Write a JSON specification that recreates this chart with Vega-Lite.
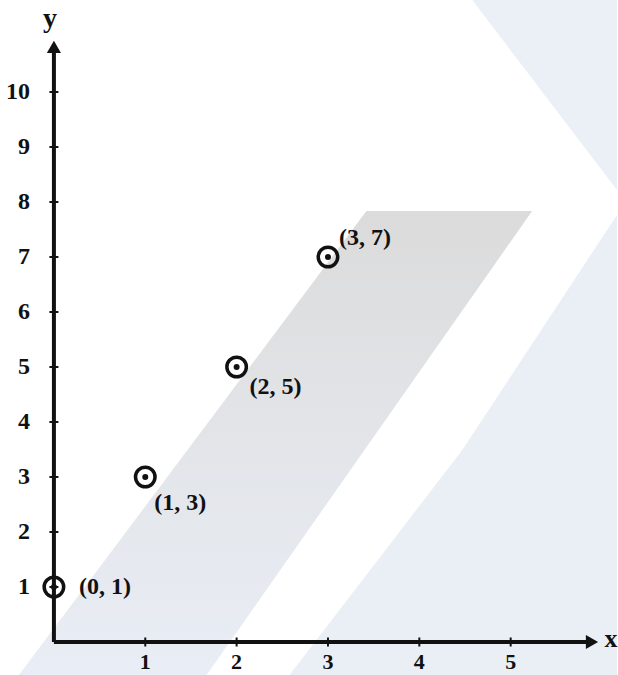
{
  "$schema": "https://vega.github.io/schema/vega-lite/v6.json",
  "width": 618,
  "height": 675,
  "autosize": {"type": "fit", "contains": "padding"},
  "padding": 0,
  "background": "#ffffff",
  "config": {
    "view": {"stroke": null},
    "text": {"font": "Liberation Serif", "fontWeight": "bold", "fontSize": 24, "color": "#111111"}
  },
  "datasets": {
    "shapes": [
      {"part": "upper", "y": 11.6727, "x0": 4.579, "x1": 6.1639},
      {"part": "upper", "y": 8.218, "x0": 6.1639, "x1": 6.1639},
      {"part": "lower", "y": 7.764, "x0": 6.1639, "x1": 6.1639},
      {"part": "lower", "y": 3.491, "x0": 4.47, "x1": 6.1639},
      {"part": "lower", "y": -0.6, "x0": 2.579, "x1": 6.1639},
      {"part": "band", "y": 7.836, "x0": 3.421, "x1": 5.235},
      {"part": "band", "y": -0.6, "x0": -0.383, "x1": 1.672}
    ],
    "axes": [
      {"x": 0, "y": 0, "x2": 0, "y2": 10.8},
      {"x": 0, "y": 0, "x2": 5.89, "y2": 0}
    ],
    "arrows": [
      {"x": 0, "y": 10.82, "dir": "up"},
      {"x": 5.89, "y": 0, "dir": "right"}
    ],
    "yt": [{"v": 1}, {"v": 2}, {"v": 3}, {"v": 4}, {"v": 5}, {"v": 6}, {"v": 7}, {"v": 8}, {"v": 9}, {"v": 10}],
    "xt": [{"v": 1}, {"v": 2}, {"v": 3}, {"v": 4}, {"v": 5}],
    "pts": [
      {"x": 0, "y": 1, "label": "(0, 1)"},
      {"x": 1, "y": 3, "label": "(1, 3)"},
      {"x": 2, "y": 5, "label": "(2, 5)"},
      {"x": 3, "y": 7, "label": "(3, 7)"}
    ]
  },
  "layer": [
    {
      "data": {"name": "shapes"},
      "transform": [{"filter": "datum.part == 'upper'"}],
      "mark": {"type": "area", "orient": "horizontal", "fill": "#ebeff6", "stroke": null},
      "encoding": {
        "y": {"field": "y", "type": "quantitative", "scale": {"domain": [-0.6, 11.6727], "nice": false, "zero": false}, "axis": null},
        "x": {"field": "x0", "type": "quantitative", "scale": {"domain": [-0.5902, 6.1639], "nice": false, "zero": false}, "axis": null},
        "x2": {"field": "x1"}
      }
    },
    {
      "data": {"name": "shapes"},
      "transform": [{"filter": "datum.part == 'lower'"}],
      "mark": {"type": "area", "orient": "horizontal", "fill": "#eaeff6", "stroke": null},
      "encoding": {
        "y": {"field": "y", "type": "quantitative", "scale": {"domain": [-0.6, 11.6727], "nice": false, "zero": false}, "axis": null},
        "x": {"field": "x0", "type": "quantitative", "scale": {"domain": [-0.5902, 6.1639], "nice": false, "zero": false}, "axis": null},
        "x2": {"field": "x1"}
      }
    },
    {
      "data": {"name": "shapes"},
      "transform": [{"filter": "datum.part == 'band'"}],
      "mark": {
        "type": "area", "orient": "horizontal", "stroke": null,
        "fill": {"gradient": "linear", "x1": 0, "y1": 0, "x2": 0, "y2": 1,
          "stops": [{"offset": 0, "color": "#dbdbdb"}, {"offset": 0.4, "color": "#e1e3e6"}, {"offset": 1, "color": "#e9edf5"}]}
      },
      "encoding": {
        "y": {"field": "y", "type": "quantitative", "scale": {"domain": [-0.6, 11.6727], "nice": false, "zero": false}, "axis": null},
        "x": {"field": "x0", "type": "quantitative", "scale": {"domain": [-0.5902, 6.1639], "nice": false, "zero": false}, "axis": null},
        "x2": {"field": "x1"}
      }
    },
    {
      "data": {"name": "axes"},
      "mark": {"type": "rule", "color": "#111111", "strokeWidth": 4},
      "encoding": {
        "x": {"field": "x", "type": "quantitative", "scale": {"domain": [-0.5902, 6.1639], "nice": false, "zero": false}, "axis": null},
        "y": {"field": "y", "type": "quantitative", "scale": {"domain": [-0.6, 11.6727], "nice": false, "zero": false}, "axis": null},
        "x2": {"field": "x2"},
        "y2": {"field": "y2"}
      }
    },
    {
      "data": {"name": "arrows"},
      "mark": {"type": "point", "filled": true, "color": "#111111", "size": 200, "opacity": 1},
      "encoding": {
        "x": {"field": "x", "type": "quantitative", "scale": {"domain": [-0.5902, 6.1639], "nice": false, "zero": false}, "axis": null},
        "y": {"field": "y", "type": "quantitative", "scale": {"domain": [-0.6, 11.6727], "nice": false, "zero": false}, "axis": null},
        "shape": {"field": "dir", "type": "nominal", "scale": {"domain": ["up", "right"], "range": ["triangle-up", "triangle-right"]}, "legend": null}
      }
    },
    {
      "data": {"name": "yt"},
      "mark": {"type": "tick", "orient": "horizontal", "size": 9, "thickness": 2, "color": "#111111", "opacity": 1},
      "encoding": {
        "x": {"datum": 0, "type": "quantitative", "scale": {"domain": [-0.5902, 6.1639], "nice": false, "zero": false}, "axis": null},
        "y": {"field": "v", "type": "quantitative", "scale": {"domain": [-0.6, 11.6727], "nice": false, "zero": false}, "axis": null}
      }
    },
    {
      "data": {"name": "xt"},
      "mark": {"type": "tick", "orient": "vertical", "size": 9, "thickness": 2, "color": "#111111", "opacity": 1},
      "encoding": {
        "x": {"field": "v", "type": "quantitative", "scale": {"domain": [-0.5902, 6.1639], "nice": false, "zero": false}, "axis": null},
        "y": {"datum": 0, "type": "quantitative", "scale": {"domain": [-0.6, 11.6727], "nice": false, "zero": false}, "axis": null}
      }
    },
    {
      "data": {"name": "yt"},
      "mark": {"type": "text", "align": "right", "baseline": "middle", "dx": -24},
      "encoding": {
        "x": {"datum": 0, "type": "quantitative", "scale": {"domain": [-0.5902, 6.1639], "nice": false, "zero": false}, "axis": null},
        "y": {"field": "v", "type": "quantitative", "scale": {"domain": [-0.6, 11.6727], "nice": false, "zero": false}, "axis": null},
        "text": {"field": "v", "type": "quantitative"}
      }
    },
    {
      "data": {"name": "xt"},
      "mark": {"type": "text", "align": "center", "baseline": "middle", "dy": 20, "fontSize": 22},
      "encoding": {
        "x": {"field": "v", "type": "quantitative", "scale": {"domain": [-0.5902, 6.1639], "nice": false, "zero": false}, "axis": null},
        "y": {"datum": 0, "type": "quantitative", "scale": {"domain": [-0.6, 11.6727], "nice": false, "zero": false}, "axis": null},
        "text": {"field": "v", "type": "quantitative"}
      }
    },
    {
      "data": {"name": "pts"},
      "mark": {"type": "point", "shape": "circle", "filled": false, "size": 380, "strokeWidth": 3.5, "color": "#111111", "opacity": 1},
      "encoding": {
        "x": {"field": "x", "type": "quantitative", "scale": {"domain": [-0.5902, 6.1639], "nice": false, "zero": false}, "axis": null},
        "y": {"field": "y", "type": "quantitative", "scale": {"domain": [-0.6, 11.6727], "nice": false, "zero": false}, "axis": null}
      }
    },
    {
      "data": {"name": "pts"},
      "mark": {"type": "point", "shape": "circle", "filled": true, "size": 36, "color": "#111111", "opacity": 1},
      "encoding": {
        "x": {"field": "x", "type": "quantitative", "scale": {"domain": [-0.5902, 6.1639], "nice": false, "zero": false}, "axis": null},
        "y": {"field": "y", "type": "quantitative", "scale": {"domain": [-0.6, 11.6727], "nice": false, "zero": false}, "axis": null}
      }
    },
    {
      "data": {"name": "pts"},
      "transform": [{"filter": "datum.x == 0"}],
      "mark": {"type": "text", "align": "left", "baseline": "middle", "dx": 25, "dy": 0},
      "encoding": {
        "x": {"field": "x", "type": "quantitative", "scale": {"domain": [-0.5902, 6.1639], "nice": false, "zero": false}, "axis": null},
        "y": {"field": "y", "type": "quantitative", "scale": {"domain": [-0.6, 11.6727], "nice": false, "zero": false}, "axis": null},
        "text": {"field": "label"}
      }
    },
    {
      "data": {"name": "pts"},
      "transform": [{"filter": "datum.x == 1"}],
      "mark": {"type": "text", "align": "left", "baseline": "middle", "dx": 9, "dy": 26},
      "encoding": {
        "x": {"field": "x", "type": "quantitative", "scale": {"domain": [-0.5902, 6.1639], "nice": false, "zero": false}, "axis": null},
        "y": {"field": "y", "type": "quantitative", "scale": {"domain": [-0.6, 11.6727], "nice": false, "zero": false}, "axis": null},
        "text": {"field": "label"}
      }
    },
    {
      "data": {"name": "pts"},
      "transform": [{"filter": "datum.x == 2"}],
      "mark": {"type": "text", "align": "left", "baseline": "middle", "dx": 13, "dy": 20},
      "encoding": {
        "x": {"field": "x", "type": "quantitative", "scale": {"domain": [-0.5902, 6.1639], "nice": false, "zero": false}, "axis": null},
        "y": {"field": "y", "type": "quantitative", "scale": {"domain": [-0.6, 11.6727], "nice": false, "zero": false}, "axis": null},
        "text": {"field": "label"}
      }
    },
    {
      "data": {"name": "pts"},
      "transform": [{"filter": "datum.x == 3"}],
      "mark": {"type": "text", "align": "left", "baseline": "middle", "dx": 11, "dy": -19},
      "encoding": {
        "x": {"field": "x", "type": "quantitative", "scale": {"domain": [-0.5902, 6.1639], "nice": false, "zero": false}, "axis": null},
        "y": {"field": "y", "type": "quantitative", "scale": {"domain": [-0.6, 11.6727], "nice": false, "zero": false}, "axis": null},
        "text": {"field": "label"}
      }
    },
    {
      "data": {"values": [{"t": "y"}]},
      "mark": {"type": "text", "align": "center", "baseline": "middle", "fontSize": 28, "dx": -4, "dy": -28},
      "encoding": {
        "x": {"datum": 0, "type": "quantitative", "scale": {"domain": [-0.5902, 6.1639], "nice": false, "zero": false}, "axis": null},
        "y": {"datum": 10.82, "type": "quantitative", "scale": {"domain": [-0.6, 11.6727], "nice": false, "zero": false}, "axis": null},
        "text": {"field": "t"}
      }
    },
    {
      "data": {"values": [{"t": "x"}]},
      "mark": {"type": "text", "align": "center", "baseline": "middle", "fontSize": 26, "dx": 19, "dy": -3},
      "encoding": {
        "x": {"datum": 5.89, "type": "quantitative", "scale": {"domain": [-0.5902, 6.1639], "nice": false, "zero": false}, "axis": null},
        "y": {"datum": 0, "type": "quantitative", "scale": {"domain": [-0.6, 11.6727], "nice": false, "zero": false}, "axis": null},
        "text": {"field": "t"}
      }
    }
  ]
}
